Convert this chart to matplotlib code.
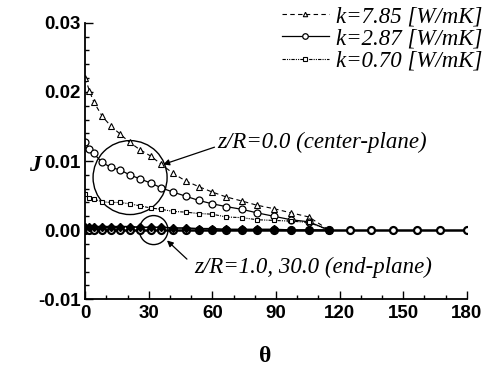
import numpy as np
import matplotlib
matplotlib.use("Agg")
import matplotlib.pyplot as plt
from matplotlib.patches import Ellipse
from matplotlib.ticker import MultipleLocator

#---------------------------------------------------------------#
            # Data #
#---------------------------------------------------------------#

theta = [0, 2, 4, 8, 12, 16.5, 21, 26, 31, 36, 41.5, 47.5, 53.5, 60,
         66.5, 74, 81, 89, 97, 105.5, 115, 125, 135, 145, 156.5, 167.5, 180]

# center-plane (z/R = 0.0), up to theta = 115
J_k785 = [0.0220, 0.0202, 0.0186, 0.0165, 0.0151, 0.0139, 0.0127, 0.0116,
          0.0107, 0.0095, 0.0082, 0.0071, 0.0063, 0.0055, 0.0048, 0.0042,
          0.0036, 0.0031, 0.0025, 0.0019, 0.0]
J_k287 = [0.0128, 0.0118, 0.0111, 0.0098, 0.0091, 0.0087, 0.0080, 0.0074,
          0.0068, 0.0061, 0.0055, 0.0049, 0.0043, 0.0038, 0.0034, 0.0030,
          0.0025, 0.0020, 0.0015, 0.0012, 0.0]
J_k070 = [0.0052, 0.0047, 0.0045, 0.0041, 0.0040, 0.0040, 0.0038, 0.0035,
          0.0032, 0.0030, 0.0027, 0.0026, 0.0024, 0.0023, 0.0019, 0.0018,
          0.0015, 0.0014, 0.0013, 0.0011, 0.0]

# end-plane (z/R = 1.0, 30.0)
J_end1 = [0.0005, 0.0005, 0.0005, 0.0005, 0.0005, 0.0005, 0.0005, 0.0004,
          0.0004, 0.0004, 0.0003, 0.0003, 0.0002, 0.0002, 0.0001, 0.0001,
          0.0001, 0.0001, 0.0, 0.0, 0.0]
J_end30 = [0.0] * len(theta)

labels = ['k=7.85 [W/mK]', 'k=2.87 [W/mK]', 'k=0.70 [W/mK]']
yticks = [-0.01, 0.0, 0.01, 0.02, 0.03]
yticklabels = ['-0.01', '0.00', '0.01', '0.02', '0.03']

#---------------------------------------------------------------#
            # Plot #
#---------------------------------------------------------------#

serif_it = dict(family='Liberation Serif', style='italic')
fs_txt = 16.5

fig = plt.figure(figsize=(4.92, 3.68), dpi=100)
ax = fig.add_axes([0.173, 0.187, 0.776, 0.751])

n = len(J_k785)
ax.plot(theta[:n], J_k785, ls=(0, (4, 3)), lw=0.8, c='k', marker='^', ms=4,
        mfc='white', mec='k', mew=0.8, label=labels[0])
ax.plot(theta[:n], J_k287, ls='-', lw=0.9, c='k', marker='o', ms=5,
        mfc='white', mec='k', mew=0.9, label=labels[1])
ax.plot(theta[:n], J_k070, ls=(0, (3, 1, 1, 1, 1, 1)), lw=0.8, c='k', marker='s',
        ms=3.5, mfc='white', mec='k', mew=0.8, label=labels[2])

# end-plane curves (thick, on the zero line)
ax.plot(theta, J_end30, ls='-', lw=1.8, c='k', marker='o', ms=5,
        mfc='white', mec='k', mew=1.6)
ax.plot(theta[:n], J_end1, ls='-', lw=1.2, c='k', marker='D', ms=4,
        mfc='k', mec='k')

ax.set_xlim(0, 180)
ax.set_ylim(-0.01, 0.03)
ax.xaxis.set_major_locator(MultipleLocator(30))
ax.xaxis.set_minor_locator(MultipleLocator(10))
ax.yaxis.set_minor_locator(MultipleLocator(0.002))
ax.set_yticks(yticks)
ax.set_yticklabels(yticklabels)

for s in ['top', 'right']:
    ax.spines[s].set_visible(False)
for s in ['left', 'bottom']:
    ax.spines[s].set_linewidth(1.3)

ax.tick_params(which='both', direction='in', width=1.0)
ax.tick_params(which='major', length=6)
ax.tick_params(which='minor', length=3)
for t in ax.get_xticklabels() + ax.get_yticklabels():
    t.set_fontfamily('Liberation Sans')
    t.set_fontweight('bold')
    t.set_fontsize(13.5)
ax.tick_params(axis='x', pad=4)
ax.tick_params(axis='y', pad=3)

# axis labels placed in figure coords
fig.text(35 / 492, 1 - 165 / 368, 'J', family='Liberation Serif', style='italic',
         weight='bold', fontsize=17, ha='center', va='center')
fig.text(265 / 492, 1 - 356 / 368, 'θ', family='Liberation Serif',
         weight='bold', fontsize=17, ha='center', va='center')

# circles marking the two groups
ax.add_patch(Ellipse((21.2, 0.0076), 34.9, 0.0107, fill=False, ec='k', lw=1.0))
ax.add_patch(Ellipse((32.3, 0.0), 13.5, 0.0042, fill=False, ec='k', lw=1.0))

arrow = dict(arrowstyle='-|>', color='k', lw=0.9, mutation_scale=9,
             shrinkA=0, shrinkB=0)
ax.annotate('', xy=(36.8, 0.0095), xytext=(61.0, 0.0120), arrowprops=arrow)
ax.annotate('', xy=(38.6, -0.0015), xytext=(48.0, -0.0042), arrowprops=arrow)
ax.text(62.5, 0.0127, 'z/R=0.0 (center-plane)', fontsize=fs_txt, **serif_it,
        va='center', ha='left')
ax.text(51.5, -0.0054, 'z/R=1.0, 30.0 (end-plane)', fontsize=fs_txt,
        **serif_it, va='center', ha='left')

leg = ax.legend(loc='upper left', bbox_to_anchor=(0.573, 0.983),
                bbox_transform=fig.transFigure, frameon=False,
                prop=dict(family='Liberation Serif', style='italic', size=fs_txt),
                handlelength=2.05, handletextpad=0.3, labelspacing=0.05,
                borderpad=0, borderaxespad=0, markerscale=0.8)

fig.savefig('out.png', dpi=100)
